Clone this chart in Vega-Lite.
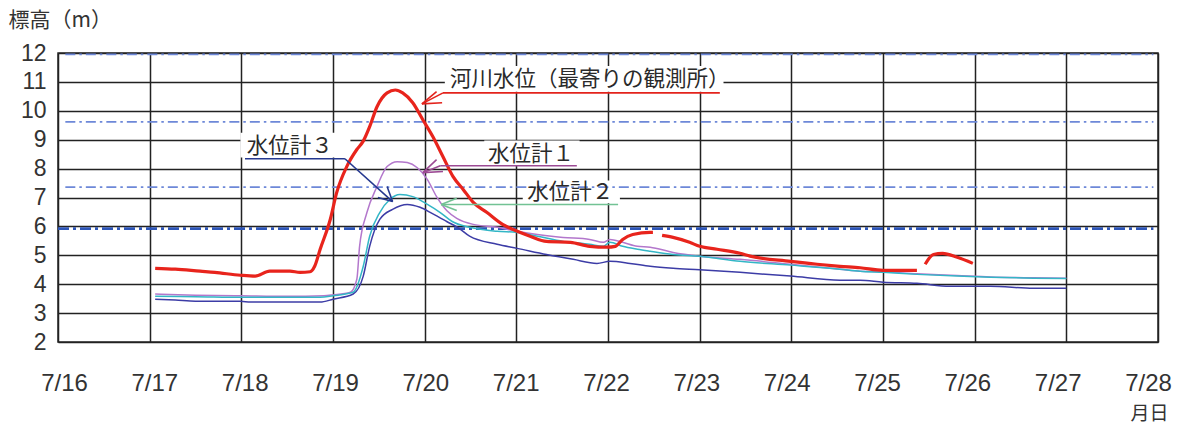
{
  "$schema": "https://vega.github.io/schema/vega-lite/v6.json",
  "width": 1100,
  "height": 289,
  "autosize": {"type": "none"},
  "padding": {"left": 58, "top": 53, "right": 22, "bottom": 81},
  "background": "white",
  "config": {
    "view": {"stroke": "#2a2a2a", "strokeWidth": 1.5},
    "font": "Liberation Sans"
  },
  "datasets": {
    "series": [
      {"s": "河川水位", "g": 1, "d": 17.06, "v": 4.55},
      {"s": "河川水位", "g": 1, "d": 17.28, "v": 4.52},
      {"s": "河川水位", "g": 1, "d": 17.55, "v": 4.45},
      {"s": "河川水位", "g": 1, "d": 17.71, "v": 4.41},
      {"s": "河川水位", "g": 1, "d": 17.99, "v": 4.31},
      {"s": "河川水位", "g": 1, "d": 18.15, "v": 4.28},
      {"s": "河川水位", "g": 1, "d": 18.31, "v": 4.45},
      {"s": "河川水位", "g": 1, "d": 18.53, "v": 4.45},
      {"s": "河川水位", "g": 1, "d": 18.64, "v": 4.41},
      {"s": "河川水位", "g": 1, "d": 18.75, "v": 4.43},
      {"s": "河川水位", "g": 1, "d": 18.8, "v": 4.62},
      {"s": "河川水位", "g": 1, "d": 18.86, "v": 5.21},
      {"s": "河川水位", "g": 1, "d": 18.97, "v": 6.24},
      {"s": "河川水位", "g": 1, "d": 19.04, "v": 7.17},
      {"s": "河川水位", "g": 1, "d": 19.15, "v": 8.07},
      {"s": "河川水位", "g": 1, "d": 19.26, "v": 8.66},
      {"s": "河川水位", "g": 1, "d": 19.33, "v": 8.95},
      {"s": "河川水位", "g": 1, "d": 19.4, "v": 9.45},
      {"s": "河川水位", "g": 1, "d": 19.48, "v": 10.14},
      {"s": "河川水位", "g": 1, "d": 19.59, "v": 10.62},
      {"s": "河川水位", "g": 1, "d": 19.68, "v": 10.72},
      {"s": "河川水位", "g": 1, "d": 19.76, "v": 10.62},
      {"s": "河川水位", "g": 1, "d": 19.87, "v": 10.28},
      {"s": "河川水位", "g": 1, "d": 19.98, "v": 9.69},
      {"s": "河川水位", "g": 1, "d": 20.09, "v": 9.1},
      {"s": "河川水位", "g": 1, "d": 20.2, "v": 8.41},
      {"s": "河川水位", "g": 1, "d": 20.31, "v": 7.72},
      {"s": "河川水位", "g": 1, "d": 20.42, "v": 7.28},
      {"s": "河川水位", "g": 1, "d": 20.53, "v": 6.83},
      {"s": "河川水位", "g": 1, "d": 20.68, "v": 6.48},
      {"s": "河川水位", "g": 1, "d": 20.85, "v": 6.07},
      {"s": "河川水位", "g": 1, "d": 21.01, "v": 5.83},
      {"s": "河川水位", "g": 1, "d": 21.15, "v": 5.66},
      {"s": "河川水位", "g": 1, "d": 21.33, "v": 5.48},
      {"s": "河川水位", "g": 1, "d": 21.59, "v": 5.45},
      {"s": "河川水位", "g": 1, "d": 21.8, "v": 5.31},
      {"s": "河川水位", "g": 1, "d": 21.99, "v": 5.28},
      {"s": "河川水位", "g": 1, "d": 22.08, "v": 5.31},
      {"s": "河川水位", "g": 1, "d": 22.16, "v": 5.55},
      {"s": "河川水位", "g": 1, "d": 22.27, "v": 5.72},
      {"s": "河川水位", "g": 1, "d": 22.46, "v": 5.79},
      {"s": "河川水位", "g": 1, "d": 22.49, "v": 5.79},
      {"s": "河川水位", "g": 2, "d": 22.59, "v": 5.69},
      {"s": "河川水位", "g": 2, "d": 22.71, "v": 5.62},
      {"s": "河川水位", "g": 2, "d": 22.89, "v": 5.45},
      {"s": "河川水位", "g": 2, "d": 23.0, "v": 5.31},
      {"s": "河川水位", "g": 2, "d": 23.19, "v": 5.21},
      {"s": "河川水位", "g": 2, "d": 23.44, "v": 5.07},
      {"s": "河川水位", "g": 2, "d": 23.55, "v": 4.97},
      {"s": "河川水位", "g": 2, "d": 23.99, "v": 4.79},
      {"s": "河川水位", "g": 2, "d": 24.28, "v": 4.69},
      {"s": "河川水位", "g": 2, "d": 24.53, "v": 4.62},
      {"s": "河川水位", "g": 2, "d": 24.75, "v": 4.57},
      {"s": "河川水位", "g": 2, "d": 25.0, "v": 4.48},
      {"s": "河川水位", "g": 2, "d": 25.37, "v": 4.48},
      {"s": "河川水位", "g": 3, "d": 25.46, "v": 4.69},
      {"s": "河川水位", "g": 3, "d": 25.55, "v": 5.03},
      {"s": "河川水位", "g": 3, "d": 25.65, "v": 5.07},
      {"s": "河川水位", "g": 3, "d": 25.81, "v": 4.93},
      {"s": "河川水位", "g": 3, "d": 25.98, "v": 4.72},

      {"s": "水位計1", "g": 1, "d": 17.06, "v": 3.66},
      {"s": "水位計1", "g": 1, "d": 17.5, "v": 3.62},
      {"s": "水位計1", "g": 1, "d": 18.0, "v": 3.6},
      {"s": "水位計1", "g": 1, "d": 18.5, "v": 3.58},
      {"s": "水位計1", "g": 1, "d": 18.9, "v": 3.6},
      {"s": "水位計1", "g": 1, "d": 19.0, "v": 3.63},
      {"s": "水位計1", "g": 1, "d": 19.19, "v": 3.72},
      {"s": "水位計1", "g": 1, "d": 19.26, "v": 4.17},
      {"s": "水位計1", "g": 1, "d": 19.29, "v": 5.31},
      {"s": "水位計1", "g": 1, "d": 19.37, "v": 6.48},
      {"s": "水位計1", "g": 1, "d": 19.48, "v": 7.38},
      {"s": "水位計1", "g": 1, "d": 19.59, "v": 8.07},
      {"s": "水位計1", "g": 1, "d": 19.7, "v": 8.24},
      {"s": "水位計1", "g": 1, "d": 19.81, "v": 8.21},
      {"s": "水位計1", "g": 1, "d": 19.92, "v": 8.03},
      {"s": "水位計1", "g": 1, "d": 20.03, "v": 7.62},
      {"s": "水位計1", "g": 1, "d": 20.13, "v": 7.03},
      {"s": "水位計1", "g": 1, "d": 20.24, "v": 6.55},
      {"s": "水位計1", "g": 1, "d": 20.35, "v": 6.28},
      {"s": "水位計1", "g": 1, "d": 20.53, "v": 6.07},
      {"s": "水位計1", "g": 1, "d": 20.79, "v": 5.97},
      {"s": "水位計1", "g": 1, "d": 21.01, "v": 5.83},
      {"s": "水位計1", "g": 1, "d": 21.23, "v": 5.72},
      {"s": "水位計1", "g": 1, "d": 21.51, "v": 5.62},
      {"s": "水位計1", "g": 1, "d": 21.8, "v": 5.55},
      {"s": "水位計1", "g": 1, "d": 21.95, "v": 5.45},
      {"s": "水位計1", "g": 1, "d": 22.02, "v": 5.55},
      {"s": "水位計1", "g": 1, "d": 22.16, "v": 5.45},
      {"s": "水位計1", "g": 1, "d": 22.32, "v": 5.31},
      {"s": "水位計1", "g": 1, "d": 22.46, "v": 5.28},
      {"s": "水位計1", "g": 1, "d": 22.71, "v": 5.1},
      {"s": "水位計1", "g": 1, "d": 23.0, "v": 4.97},
      {"s": "水位計1", "g": 1, "d": 23.44, "v": 4.86},
      {"s": "水位計1", "g": 1, "d": 23.99, "v": 4.69},
      {"s": "水位計1", "g": 1, "d": 24.53, "v": 4.52},
      {"s": "水位計1", "g": 1, "d": 24.75, "v": 4.45},
      {"s": "水位計1", "g": 1, "d": 25.0, "v": 4.43},
      {"s": "水位計1", "g": 1, "d": 25.37, "v": 4.36},
      {"s": "水位計1", "g": 1, "d": 25.81, "v": 4.3},
      {"s": "水位計1", "g": 1, "d": 26.17, "v": 4.25},
      {"s": "水位計1", "g": 1, "d": 26.64, "v": 4.22},
      {"s": "水位計1", "g": 1, "d": 27.0, "v": 4.21},

      {"s": "水位計2", "g": 1, "d": 17.06, "v": 3.58},
      {"s": "水位計2", "g": 1, "d": 17.5, "v": 3.57},
      {"s": "水位計2", "g": 1, "d": 18.0, "v": 3.55},
      {"s": "水位計2", "g": 1, "d": 18.5, "v": 3.55},
      {"s": "水位計2", "g": 1, "d": 18.86, "v": 3.55},
      {"s": "水位計2", "g": 1, "d": 19.0, "v": 3.6},
      {"s": "水位計2", "g": 1, "d": 19.22, "v": 3.72},
      {"s": "水位計2", "g": 1, "d": 19.33, "v": 4.62},
      {"s": "水位計2", "g": 1, "d": 19.4, "v": 5.66},
      {"s": "水位計2", "g": 1, "d": 19.51, "v": 6.48},
      {"s": "水位計2", "g": 1, "d": 19.62, "v": 6.93},
      {"s": "水位計2", "g": 1, "d": 19.73, "v": 7.1},
      {"s": "水位計2", "g": 1, "d": 19.87, "v": 7.03},
      {"s": "水位計2", "g": 1, "d": 20.03, "v": 6.76},
      {"s": "水位計2", "g": 1, "d": 20.17, "v": 6.48},
      {"s": "水位計2", "g": 1, "d": 20.3, "v": 6.17},
      {"s": "水位計2", "g": 1, "d": 20.49, "v": 5.97},
      {"s": "水位計2", "g": 1, "d": 20.79, "v": 5.83},
      {"s": "水位計2", "g": 1, "d": 21.01, "v": 5.79},
      {"s": "水位計2", "g": 1, "d": 21.23, "v": 5.66},
      {"s": "水位計2", "g": 1, "d": 21.51, "v": 5.48},
      {"s": "水位計2", "g": 1, "d": 21.8, "v": 5.38},
      {"s": "水位計2", "g": 1, "d": 21.95, "v": 5.31},
      {"s": "水位計2", "g": 1, "d": 22.02, "v": 5.45},
      {"s": "水位計2", "g": 1, "d": 22.16, "v": 5.31},
      {"s": "水位計2", "g": 1, "d": 22.32, "v": 5.21},
      {"s": "水位計2", "g": 1, "d": 22.46, "v": 5.14},
      {"s": "水位計2", "g": 1, "d": 22.71, "v": 5.03},
      {"s": "水位計2", "g": 1, "d": 23.0, "v": 4.97},
      {"s": "水位計2", "g": 1, "d": 23.44, "v": 4.79},
      {"s": "水位計2", "g": 1, "d": 23.99, "v": 4.66},
      {"s": "水位計2", "g": 1, "d": 24.53, "v": 4.52},
      {"s": "水位計2", "g": 1, "d": 24.75, "v": 4.45},
      {"s": "水位計2", "g": 1, "d": 25.0, "v": 4.41},
      {"s": "水位計2", "g": 1, "d": 25.37, "v": 4.34},
      {"s": "水位計2", "g": 1, "d": 25.81, "v": 4.28},
      {"s": "水位計2", "g": 1, "d": 26.17, "v": 4.24},
      {"s": "水位計2", "g": 1, "d": 26.64, "v": 4.21},
      {"s": "水位計2", "g": 1, "d": 27.0, "v": 4.2},

      {"s": "水位計3", "g": 1, "d": 17.06, "v": 3.48},
      {"s": "水位計3", "g": 1, "d": 17.28, "v": 3.45},
      {"s": "水位計3", "g": 1, "d": 17.5, "v": 3.41},
      {"s": "水位計3", "g": 1, "d": 17.99, "v": 3.41},
      {"s": "水位計3", "g": 1, "d": 18.1, "v": 3.38},
      {"s": "水位計3", "g": 1, "d": 18.86, "v": 3.38},
      {"s": "水位計3", "g": 1, "d": 19.0, "v": 3.48},
      {"s": "水位計3", "g": 1, "d": 19.22, "v": 3.66},
      {"s": "水位計3", "g": 1, "d": 19.33, "v": 4.28},
      {"s": "水位計3", "g": 1, "d": 19.4, "v": 5.31},
      {"s": "水位計3", "g": 1, "d": 19.51, "v": 6.24},
      {"s": "水位計3", "g": 1, "d": 19.65, "v": 6.59},
      {"s": "水位計3", "g": 1, "d": 19.81, "v": 6.76},
      {"s": "水位計3", "g": 1, "d": 19.95, "v": 6.66},
      {"s": "水位計3", "g": 1, "d": 20.08, "v": 6.45},
      {"s": "水位計3", "g": 1, "d": 20.24, "v": 6.17},
      {"s": "水位計3", "g": 1, "d": 20.39, "v": 5.9},
      {"s": "水位計3", "g": 1, "d": 20.49, "v": 5.66},
      {"s": "水位計3", "g": 1, "d": 20.79, "v": 5.38},
      {"s": "水位計3", "g": 1, "d": 21.01, "v": 5.24},
      {"s": "水位計3", "g": 1, "d": 21.33, "v": 5.03},
      {"s": "水位計3", "g": 1, "d": 21.62, "v": 4.86},
      {"s": "水位計3", "g": 1, "d": 21.88, "v": 4.72},
      {"s": "水位計3", "g": 1, "d": 22.02, "v": 4.79},
      {"s": "水位計3", "g": 1, "d": 22.24, "v": 4.72},
      {"s": "水位計3", "g": 1, "d": 22.46, "v": 4.62},
      {"s": "水位計3", "g": 1, "d": 22.71, "v": 4.55},
      {"s": "水位計3", "g": 1, "d": 23.0, "v": 4.5},
      {"s": "水位計3", "g": 1, "d": 23.44, "v": 4.41},
      {"s": "水位計3", "g": 1, "d": 23.99, "v": 4.28},
      {"s": "水位計3", "g": 1, "d": 24.53, "v": 4.14},
      {"s": "水位計3", "g": 1, "d": 24.75, "v": 4.14},
      {"s": "水位計3", "g": 1, "d": 25.0, "v": 4.07},
      {"s": "水位計3", "g": 1, "d": 25.37, "v": 4.03},
      {"s": "水位計3", "g": 1, "d": 25.73, "v": 3.93},
      {"s": "水位計3", "g": 1, "d": 26.17, "v": 3.93},
      {"s": "水位計3", "g": 1, "d": 26.64, "v": 3.86},
      {"s": "水位計3", "g": 1, "d": 27.0, "v": 3.86}
    ],
    "refs": [
      {"k": "light", "d": 16.08, "d2": 27.95, "v": 11.95},
      {"k": "light", "d": 16.08, "d2": 27.95, "v": 9.62},
      {"k": "light", "d": 16.08, "d2": 27.95, "v": 7.36},
      {"k": "dark", "d": 16.0, "d2": 27.95, "v": 5.92}
    ],
    "boxes": [
      {"d": 20.22, "d2": 23.26, "v": 11.55, "v2": 10.66},
      {"d": 20.65, "d2": 21.69, "v": 8.97, "v2": 8.12},
      {"d": 21.07, "d2": 22.13, "v": 7.59, "v2": 6.8},
      {"d": 17.99, "d2": 19.19, "v": 9.24, "v2": 8.38}
    ],
    "arrows": [
      {"w": "河川水位", "d": 20.2, "v": 10.62, "d2": 23.22, "v2": 10.62},
      {"w": "河川水位", "d": 20.2, "v": 10.62, "d2": 19.97, "v2": 10.24},
      {"w": "河川水位", "d": 19.97, "v": 10.24, "d2": 20.13, "v2": 10.66},
      {"w": "河川水位", "d": 19.97, "v": 10.24, "d2": 20.19, "v2": 10.28},
      {"w": "水位計1", "d": 20.17, "v": 8.1, "d2": 21.66, "v2": 8.1},
      {"w": "水位計1", "d": 20.17, "v": 8.1, "d2": 19.98, "v2": 7.86},
      {"w": "水位計1", "d": 19.98, "v": 7.86, "d2": 20.13, "v2": 8.31},
      {"w": "水位計1", "d": 19.98, "v": 7.86, "d2": 20.2, "v2": 7.9},
      {"w": "水位計2", "d": 20.18, "v": 6.76, "d2": 22.11, "v2": 6.76},
      {"w": "水位計2", "d": 20.18, "v": 6.76, "d2": 20.35, "v2": 6.97},
      {"w": "水位計2", "d": 20.18, "v": 6.76, "d2": 20.35, "v2": 6.55},
      {"w": "水位計3", "d": 18.04, "v": 8.34, "d2": 19.13, "v2": 8.34},
      {"w": "水位計3", "d": 19.13, "v": 8.34, "d2": 19.65, "v2": 6.86},
      {"w": "水位計3", "d": 19.65, "v": 6.86, "d2": 19.59, "v2": 7.38},
      {"w": "水位計3", "d": 19.65, "v": 6.86, "d2": 19.49, "v2": 7.0}
    ],
    "labels": [
      {"t": "河川水位（最寄りの観測所）", "d": 20.276, "v": 11.07},
      {"t": "水位計１", "d": 20.69, "v": 8.48},
      {"t": "水位計２", "d": 21.12, "v": 7.14},
      {"t": "水位計３", "d": 18.06, "v": 8.76}
    ]
  },
  "encoding": {
    "x": {
      "field": "d",
      "type": "quantitative",
      "scale": {"domain": [16, 28], "nice": false, "zero": false},
      "axis": {
        "values": [16, 17, 18, 19, 20, 21, 22, 23, 24, 25, 26, 27, 28],
        "labelExpr": "'7/' + datum.value",
        "grid": true,
        "gridColor": "#222222",
        "gridWidth": 1.5,
        "ticks": false,
        "domain": false,
        "labelFont": "Liberation Sans",
        "labelFontSize": 24,
        "labelColor": "#333",
        "labelPadding": 29,
        "labelOffset": {"expr": "6 - 1.33 * (datum.value - 16)"},
        "labelOverlap": false,
        "labelBound": false,
        "labelFlush": false,
        "title": "月日",
        "titleFont": "Noto Sans CJK JP",
        "titleFontSize": 19,
        "titleFontWeight": "normal",
        "titleColor": "#333",
        "titleAnchor": "start",
        "titleAlign": "right",
        "titleBaseline": "middle",
        "titleX": 1110,
        "titleY": 71
      }
    },
    "y": {
      "field": "v",
      "type": "quantitative",
      "scale": {"domain": [2, 12], "nice": false, "zero": false},
      "axis": {
        "values": [2, 3, 4, 5, 6, 7, 8, 9, 10, 11, 12],
        "grid": true,
        "gridColor": "#222222",
        "gridWidth": 1.5,
        "ticks": false,
        "domain": false,
        "labelFont": "Liberation Sans",
        "labelFontSize": 23,
        "labelColor": "#333",
        "labelPadding": 12,
        "labelOverlap": false,
        "labelBound": false,
        "labelFlush": false,
        "title": "標高（m）",
        "titleFont": "Noto Sans CJK JP",
        "titleFontSize": 21,
        "titleFontWeight": "normal",
        "titleColor": "#333",
        "titleAngle": 0,
        "titleAnchor": "start",
        "titleAlign": "left",
        "titleBaseline": "middle",
        "titleX": -50,
        "titleY": -33
      }
    }
  },
  "layer": [
    {
      "data": {"name": "boxes"},
      "mark": {"type": "rect", "fill": "white"},
      "encoding": {"x2": {"field": "d2"}, "y2": {"field": "v2"}}
    },
    {
      "data": {"name": "refs"},
      "transform": [{"filter": "datum.k === 'light'"}],
      "mark": {"type": "rule", "color": "#6d88d8", "strokeWidth": 1.8, "strokeDash": [10, 4, 2.5, 4]},
      "encoding": {"x2": {"field": "d2"}}
    },
    {
      "data": {"name": "refs"},
      "transform": [{"filter": "datum.k === 'dark'"}],
      "mark": {"type": "rule", "color": "#2e56b8", "strokeWidth": 2.8, "strokeDash": [11, 4, 3, 4]},
      "encoding": {"x2": {"field": "d2"}}
    },
    {
      "data": {"name": "series"},
      "transform": [{"filter": "datum.s === '水位計3'"}],
      "mark": {"type": "line", "color": "#3c3ca6", "strokeWidth": 1.5, "interpolate": "monotone"},
      "encoding": {"detail": {"field": "g"}}
    },
    {
      "data": {"name": "series"},
      "transform": [{"filter": "datum.s === '水位計1'"}],
      "mark": {"type": "line", "color": "#b377cc", "strokeWidth": 1.5, "interpolate": "monotone"},
      "encoding": {"detail": {"field": "g"}}
    },
    {
      "data": {"name": "series"},
      "transform": [{"filter": "datum.s === '水位計2'"}],
      "mark": {"type": "line", "color": "#33b6c6", "strokeWidth": 1.5, "interpolate": "monotone"},
      "encoding": {"detail": {"field": "g"}}
    },
    {
      "data": {"name": "series"},
      "transform": [{"filter": "datum.s === '河川水位'"}],
      "mark": {"type": "line", "color": "#e8241c", "strokeWidth": 3.2, "interpolate": "monotone"},
      "encoding": {"detail": {"field": "g"}}
    },
    {
      "data": {"name": "arrows"},
      "mark": {"type": "rule", "strokeWidth": 1.6},
      "encoding": {
        "x2": {"field": "d2"},
        "y2": {"field": "v2"},
        "color": {
          "field": "w",
          "type": "nominal",
          "scale": {"domain": ["河川水位", "水位計1", "水位計2", "水位計3"], "range": ["#e3231c", "#9c4a94", "#72c294", "#25388f"]},
          "legend": null
        }
      }
    },
    {
      "data": {"name": "labels"},
      "mark": {"type": "text", "align": "left", "baseline": "middle", "font": "Noto Sans CJK JP", "fontSize": 21.5, "color": "#2a2a2a"},
      "encoding": {"text": {"field": "t"}}
    }
  ]
}
